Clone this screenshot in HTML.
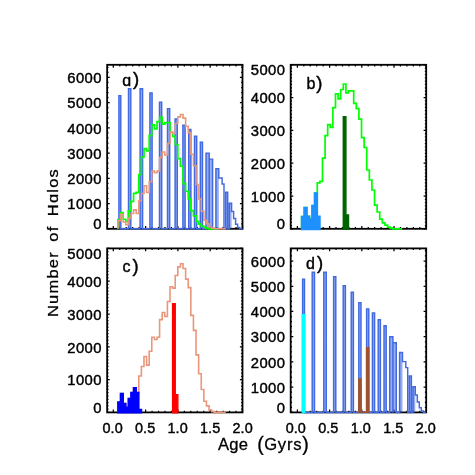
<!DOCTYPE html>
<html><head><meta charset="utf-8"><title>Halo age histograms</title>
<style>
html,body{margin:0;padding:0;background:#fff;}
body{width:475px;height:475px;overflow:hidden;}
svg{display:block;font-family:"Liberation Sans",sans-serif;}
.t{font-size:14.8px;letter-spacing:0.4px;fill:#000;stroke:#000;stroke-width:0.42px;}
.p{font-size:16px;letter-spacing:1px;fill:#000;stroke:#000;stroke-width:0.4px;}
.a{font-size:15.4px;letter-spacing:1.4px;word-spacing:4px;fill:#000;stroke:#000;stroke-width:0.3px;}
.h{fill:none;stroke-width:1.42;stroke-linejoin:miter;stroke-linecap:butt;}
</style></head><body>
<svg width="475" height="475" viewBox="0 0 475 475">
<rect width="475" height="475" fill="#fff"/>
<g id="panel-a">
<rect x="107.15" y="64.8" width="135.35" height="164" fill="none" stroke="#000" stroke-width="1.8"/>
<path d="M107.15,228.8h2.6M242.5,228.8h-2.6M107.15,223.75h1.35M242.5,223.75h-1.35M107.15,218.71h1.35M242.5,218.71h-1.35M107.15,213.66h1.35M242.5,213.66h-1.35M107.15,208.62h1.35M242.5,208.62h-1.35M107.15,203.57h2.6M242.5,203.57h-2.6M107.15,198.52h1.35M242.5,198.52h-1.35M107.15,193.48h1.35M242.5,193.48h-1.35M107.15,188.43h1.35M242.5,188.43h-1.35M107.15,183.38h1.35M242.5,183.38h-1.35M107.15,178.34h2.6M242.5,178.34h-2.6M107.15,173.29h1.35M242.5,173.29h-1.35M107.15,168.25h1.35M242.5,168.25h-1.35M107.15,163.2h1.35M242.5,163.2h-1.35M107.15,158.15h1.35M242.5,158.15h-1.35M107.15,153.11h2.6M242.5,153.11h-2.6M107.15,148.06h1.35M242.5,148.06h-1.35M107.15,143.02h1.35M242.5,143.02h-1.35M107.15,137.97h1.35M242.5,137.97h-1.35M107.15,132.92h1.35M242.5,132.92h-1.35M107.15,127.88h2.6M242.5,127.88h-2.6M107.15,122.83h1.35M242.5,122.83h-1.35M107.15,117.78h1.35M242.5,117.78h-1.35M107.15,112.74h1.35M242.5,112.74h-1.35M107.15,107.69h1.35M242.5,107.69h-1.35M107.15,102.65h2.6M242.5,102.65h-2.6M107.15,97.6h1.35M242.5,97.6h-1.35M107.15,92.55h1.35M242.5,92.55h-1.35M107.15,87.51h1.35M242.5,87.51h-1.35M107.15,82.46h1.35M242.5,82.46h-1.35M107.15,77.42h2.6M242.5,77.42h-2.6M107.15,72.37h1.35M242.5,72.37h-1.35M107.15,67.32h1.35M242.5,67.32h-1.35M113.3,228.8v-2.9M113.3,64.8v2.9M119.76,228.8v-1.7M119.76,64.8v1.7M126.22,228.8v-1.7M126.22,64.8v1.7M132.68,228.8v-1.7M132.68,64.8v1.7M139.14,228.8v-1.7M139.14,64.8v1.7M145.6,228.8v-2.9M145.6,64.8v2.9M152.06,228.8v-1.7M152.06,64.8v1.7M158.52,228.8v-1.7M158.52,64.8v1.7M164.98,228.8v-1.7M164.98,64.8v1.7M171.44,228.8v-1.7M171.44,64.8v1.7M177.9,228.8v-2.9M177.9,64.8v2.9M184.36,228.8v-1.7M184.36,64.8v1.7M190.82,228.8v-1.7M190.82,64.8v1.7M197.28,228.8v-1.7M197.28,64.8v1.7M203.74,228.8v-1.7M203.74,64.8v1.7M210.2,228.8v-2.9M210.2,64.8v2.9M216.66,228.8v-1.7M216.66,64.8v1.7M223.12,228.8v-1.7M223.12,64.8v1.7M229.58,228.8v-1.7M229.58,64.8v1.7M236.04,228.8v-1.7M236.04,64.8v1.7M242.5,228.8v-2.9M242.5,64.8v2.9" stroke="#000" stroke-width="1.25" fill="none"/>
<path d="M118.9,228.8V95.7H120.8V228.8ZM128.5,228.8V88.7H130.8V228.8ZM140.1,228.8V88.7H142.6V228.8ZM149.9,228.8V93H152.1V228.8ZM159.5,228.8V102.2H161.7V228.8ZM167.5,228.8V108.6H169.7V228.8ZM175.1,228.8V119H177.3V228.8ZM182.9,228.8V125.3H185.1V228.8ZM188.7,228.8V129.4H190.9V228.8ZM194.5,228.8V136.2H196.7V228.8ZM200.3,228.8V142.2H202.5V228.8ZM206,228.8V153.1H209.2V228.8ZM209.2,228.8V159.1H212.6V228.8ZM215.9,228.8V168.8H218.8V228.8ZM225.7,228.8V192.3H227.7V228.8ZM229.3,228.8V203.2H231.6V228.8Z" fill="#4169e1" fill-opacity="0.55" stroke="none"/>
<path class="h" stroke="#4169e1" style="stroke-width:1.45" d="M118.9,228.8V95.7H120.8V228.8H128.5V88.7H130.8V228.8H140.1V88.7H142.6V228.8H149.9V93H152.1V228.8H159.5V102.2H161.7V228.8H167.5V108.6H169.7V228.8H175.1V119H177.3V228.8H182.9V125.3H185.1V228.8H188.7V129.4H190.9V228.8H194.5V136.2H196.7V228.8H200.3V142.2H202.5V228.8H206V153.1H209.2V159.1H212.6V228.8H215.9V168.8H218.8V178H222.1V184H224V228.8H225.7V192.3H227.7V228.8H229.3V203.2H231.6V211.4H233.6V218.4H235.6V224.2H237.6V227.4H239.7V228.8H242.3M209.2,228.8V158.5"/>
<path class="h" style="stroke-width:1.7" stroke="#00ff00" d="M117.95,228.8V219.49H120.55V212.49H123.16V219.26H125.76V221.42H128.36V210.95H130.96V201.42H133.57V193.42H136.17V192.34H138.77V174.49H141.38V157.11H143.98V148.72H146.58V150.8H149.19V135.65H151.79V124.95H154.39V128.88H157V121.65H159.6V117.42H162.2V124.18H164.8V122.65H167.41V122.65H170.01V132.26H172.61V136.34H175.22V144.49H177.82V158.65H180.42V166.26H183.02V183.57H185.63V191.26H188.23V198.95H190.83V210.65H193.44V215.88H196.04V221.42H198.64V224.18H201.25V226.03H203.85V227.57H206.45V228.34H209.06V228.8H218.3"/>
<path class="h" style="stroke-width:1.58" stroke="#e9967a" d="M117.95,228.8V220.8H120.55V214.34H123.16V221.95H125.76V224.8H128.36V218.18H130.96V213.49H133.57V209.88H136.17V213.49H138.77V200.8H141.38V193.49H143.98V185.8H146.58V192.42H149.19V181.72H151.79V171.03H154.39V172.72H157V171.03H159.6V157.42H162.2V151.95H164.8V155.03H167.41V143.49H170.01V132.11H172.61V133.18H175.22V123.49H177.82V116.88H180.42V114.42H183.02V118.11H185.63V126.26H188.23V132.8H190.83V154.18H193.44V165.72H196.04V184.57H198.64V199.03H201.25V211.18H203.85V220.18H206.45V223.8H209.06V226.95H211.66V228.18H214.26V228.8H225.8"/>
</g>
<g id="panel-b">
<rect x="290.7" y="64.8" width="135.5" height="164" fill="none" stroke="#000" stroke-width="1.8"/>
<path d="M290.7,228.8h2.6M426.2,228.8h-2.6M290.7,225.52h1.35M426.2,225.52h-1.35M290.7,222.24h1.35M426.2,222.24h-1.35M290.7,218.96h1.35M426.2,218.96h-1.35M290.7,215.68h1.35M426.2,215.68h-1.35M290.7,212.4h1.35M426.2,212.4h-1.35M290.7,209.12h1.35M426.2,209.12h-1.35M290.7,205.84h1.35M426.2,205.84h-1.35M290.7,202.56h1.35M426.2,202.56h-1.35M290.7,199.28h1.35M426.2,199.28h-1.35M290.7,196h2.6M426.2,196h-2.6M290.7,192.72h1.35M426.2,192.72h-1.35M290.7,189.44h1.35M426.2,189.44h-1.35M290.7,186.16h1.35M426.2,186.16h-1.35M290.7,182.88h1.35M426.2,182.88h-1.35M290.7,179.6h1.35M426.2,179.6h-1.35M290.7,176.32h1.35M426.2,176.32h-1.35M290.7,173.04h1.35M426.2,173.04h-1.35M290.7,169.76h1.35M426.2,169.76h-1.35M290.7,166.48h1.35M426.2,166.48h-1.35M290.7,163.2h2.6M426.2,163.2h-2.6M290.7,159.92h1.35M426.2,159.92h-1.35M290.7,156.64h1.35M426.2,156.64h-1.35M290.7,153.36h1.35M426.2,153.36h-1.35M290.7,150.08h1.35M426.2,150.08h-1.35M290.7,146.8h1.35M426.2,146.8h-1.35M290.7,143.52h1.35M426.2,143.52h-1.35M290.7,140.24h1.35M426.2,140.24h-1.35M290.7,136.96h1.35M426.2,136.96h-1.35M290.7,133.68h1.35M426.2,133.68h-1.35M290.7,130.4h2.6M426.2,130.4h-2.6M290.7,127.12h1.35M426.2,127.12h-1.35M290.7,123.84h1.35M426.2,123.84h-1.35M290.7,120.56h1.35M426.2,120.56h-1.35M290.7,117.28h1.35M426.2,117.28h-1.35M290.7,114h1.35M426.2,114h-1.35M290.7,110.72h1.35M426.2,110.72h-1.35M290.7,107.44h1.35M426.2,107.44h-1.35M290.7,104.16h1.35M426.2,104.16h-1.35M290.7,100.88h1.35M426.2,100.88h-1.35M290.7,97.6h2.6M426.2,97.6h-2.6M290.7,94.32h1.35M426.2,94.32h-1.35M290.7,91.04h1.35M426.2,91.04h-1.35M290.7,87.76h1.35M426.2,87.76h-1.35M290.7,84.48h1.35M426.2,84.48h-1.35M290.7,81.2h1.35M426.2,81.2h-1.35M290.7,77.92h1.35M426.2,77.92h-1.35M290.7,74.64h1.35M426.2,74.64h-1.35M290.7,71.36h1.35M426.2,71.36h-1.35M290.7,68.08h1.35M426.2,68.08h-1.35M290.7,64.8h2.6M426.2,64.8h-2.6M290.96,228.8v-1.7M290.96,64.8v1.7M297.4,228.8v-2.9M297.4,64.8v2.9M303.84,228.8v-1.7M303.84,64.8v1.7M310.28,228.8v-1.7M310.28,64.8v1.7M316.72,228.8v-1.7M316.72,64.8v1.7M323.16,228.8v-1.7M323.16,64.8v1.7M329.6,228.8v-2.9M329.6,64.8v2.9M336.04,228.8v-1.7M336.04,64.8v1.7M342.48,228.8v-1.7M342.48,64.8v1.7M348.92,228.8v-1.7M348.92,64.8v1.7M355.36,228.8v-1.7M355.36,64.8v1.7M361.8,228.8v-2.9M361.8,64.8v2.9M368.24,228.8v-1.7M368.24,64.8v1.7M374.68,228.8v-1.7M374.68,64.8v1.7M381.12,228.8v-1.7M381.12,64.8v1.7M387.56,228.8v-1.7M387.56,64.8v1.7M394,228.8v-2.9M394,64.8v2.9M400.44,228.8v-1.7M400.44,64.8v1.7M406.88,228.8v-1.7M406.88,64.8v1.7M413.32,228.8v-1.7M413.32,64.8v1.7M419.76,228.8v-1.7M419.76,64.8v1.7M426.2,228.8v-2.9M426.2,64.8v2.9" stroke="#000" stroke-width="1.25" fill="none"/>
<path class="h" style="stroke-width:1.7" stroke="#00ff00" d="M301.65,228.8V216.7H304.25V207.6H306.86V216.4H309.46V219.2H312.06V205.6H314.66V193.2H317.27V182.8H319.87V181.4H322.47V158.2H325.08V135.6H327.68V124.7H330.28V127.4H332.89V107.7H335.49V93.8H338.09V98.9H340.69V89.5H343.3V84H345.9V92.8H348.5V90.8H351.11V90.8H353.71V103.3H356.31V108.6H358.92V119.2H361.52V137.6H364.12V147.5H366.72V170H369.33V180H371.93V190H374.53V205.2H377.14V212H379.74V219.2H382.34V222.8H384.95V225.2H387.55V227.2H390.15V228.2H392.75V228.8H402"/>
<path d="M301.65,229.4V216.7H304.25V207.6H306.86V216.4H309.46V219.2H312.06V205.6H314.66V193.2H317.27V216.4H319.87V229.4Z" fill="#1e90ff" stroke="#1e90ff" stroke-width="1.72"/>
<path d="M343.3,229.4V116.8H345.9V215H348.5V229.4Z" fill="#006400" stroke="#006400" stroke-width="1.42"/>
</g>
<g id="panel-c">
<rect x="107.15" y="248.4" width="135.35" height="164" fill="none" stroke="#000" stroke-width="1.8"/>
<path d="M107.15,412.4h2.6M242.5,412.4h-2.6M107.15,409.12h1.35M242.5,409.12h-1.35M107.15,405.84h1.35M242.5,405.84h-1.35M107.15,402.56h1.35M242.5,402.56h-1.35M107.15,399.28h1.35M242.5,399.28h-1.35M107.15,396h1.35M242.5,396h-1.35M107.15,392.72h1.35M242.5,392.72h-1.35M107.15,389.44h1.35M242.5,389.44h-1.35M107.15,386.16h1.35M242.5,386.16h-1.35M107.15,382.88h1.35M242.5,382.88h-1.35M107.15,379.6h2.6M242.5,379.6h-2.6M107.15,376.32h1.35M242.5,376.32h-1.35M107.15,373.04h1.35M242.5,373.04h-1.35M107.15,369.76h1.35M242.5,369.76h-1.35M107.15,366.48h1.35M242.5,366.48h-1.35M107.15,363.2h1.35M242.5,363.2h-1.35M107.15,359.92h1.35M242.5,359.92h-1.35M107.15,356.64h1.35M242.5,356.64h-1.35M107.15,353.36h1.35M242.5,353.36h-1.35M107.15,350.08h1.35M242.5,350.08h-1.35M107.15,346.8h2.6M242.5,346.8h-2.6M107.15,343.52h1.35M242.5,343.52h-1.35M107.15,340.24h1.35M242.5,340.24h-1.35M107.15,336.96h1.35M242.5,336.96h-1.35M107.15,333.68h1.35M242.5,333.68h-1.35M107.15,330.4h1.35M242.5,330.4h-1.35M107.15,327.12h1.35M242.5,327.12h-1.35M107.15,323.84h1.35M242.5,323.84h-1.35M107.15,320.56h1.35M242.5,320.56h-1.35M107.15,317.28h1.35M242.5,317.28h-1.35M107.15,314h2.6M242.5,314h-2.6M107.15,310.72h1.35M242.5,310.72h-1.35M107.15,307.44h1.35M242.5,307.44h-1.35M107.15,304.16h1.35M242.5,304.16h-1.35M107.15,300.88h1.35M242.5,300.88h-1.35M107.15,297.6h1.35M242.5,297.6h-1.35M107.15,294.32h1.35M242.5,294.32h-1.35M107.15,291.04h1.35M242.5,291.04h-1.35M107.15,287.76h1.35M242.5,287.76h-1.35M107.15,284.48h1.35M242.5,284.48h-1.35M107.15,281.2h2.6M242.5,281.2h-2.6M107.15,277.92h1.35M242.5,277.92h-1.35M107.15,274.64h1.35M242.5,274.64h-1.35M107.15,271.36h1.35M242.5,271.36h-1.35M107.15,268.08h1.35M242.5,268.08h-1.35M107.15,264.8h1.35M242.5,264.8h-1.35M107.15,261.52h1.35M242.5,261.52h-1.35M107.15,258.24h1.35M242.5,258.24h-1.35M107.15,254.96h1.35M242.5,254.96h-1.35M107.15,251.68h1.35M242.5,251.68h-1.35M107.15,248.4h2.6M242.5,248.4h-2.6M113.3,412.4v-2.9M113.3,248.4v2.9M119.76,412.4v-1.7M119.76,248.4v1.7M126.22,412.4v-1.7M126.22,248.4v1.7M132.68,412.4v-1.7M132.68,248.4v1.7M139.14,412.4v-1.7M139.14,248.4v1.7M145.6,412.4v-2.9M145.6,248.4v2.9M152.06,412.4v-1.7M152.06,248.4v1.7M158.52,412.4v-1.7M158.52,248.4v1.7M164.98,412.4v-1.7M164.98,248.4v1.7M171.44,412.4v-1.7M171.44,248.4v1.7M177.9,412.4v-2.9M177.9,248.4v2.9M184.36,412.4v-1.7M184.36,248.4v1.7M190.82,412.4v-1.7M190.82,248.4v1.7M197.28,412.4v-1.7M197.28,248.4v1.7M203.74,412.4v-1.7M203.74,248.4v1.7M210.2,412.4v-2.9M210.2,248.4v2.9M216.66,412.4v-1.7M216.66,248.4v1.7M223.12,412.4v-1.7M223.12,248.4v1.7M229.58,412.4v-1.7M229.58,248.4v1.7M236.04,412.4v-1.7M236.04,248.4v1.7M242.5,412.4v-2.9M242.5,248.4v2.9" stroke="#000" stroke-width="1.25" fill="none"/>
<path class="h" style="stroke-width:1.58" stroke="#e9967a" d="M117.95,412.4V402H120.55V393.6H123.16V403.5H125.76V407.2H128.36V398.6H130.96V392.5H133.57V387.8H136.17V392.5H138.77V376H141.38V366.5H143.98V356.5H146.58V365.1H149.19V351.2H151.79V337.3H154.39V339.5H157V337.3H159.6V319.6H162.2V312.5H164.8V316.5H167.41V301.5H170.01V286.7H172.61V288.1H175.22V275.5H177.82V266.9H180.42V263.7H183.02V268.5H185.63V279.1H188.23V287.6H190.83V315.4H193.44V330.4H196.04V354.9H198.64V373.7H201.25V389.5H203.85V401.2H206.45V405.9H209.06V410H211.66V411.6H214.26V412.4H225.8"/>
<path d="M117.95,412.8V402H120.55V393.6H123.16V403.5H125.76V407.2H128.36V398.6H130.96V392.5H133.57V387.8H136.17V392.5H138.77V409.5H141.38V412.8Z" fill="#0000ff" stroke="#0000ff" stroke-width="1.62"/>
<path d="M172.61,412.8V303.6H175.22V394.7H177.82V412.8Z" fill="#ff0000" stroke="#ff0000" stroke-width="1.42"/>
</g>
<g id="panel-d">
<rect x="290.7" y="248.4" width="135.5" height="164" fill="none" stroke="#000" stroke-width="1.8"/>
<path d="M290.7,412.4h2.6M426.2,412.4h-2.6M290.7,407.35h1.35M426.2,407.35h-1.35M290.7,402.31h1.35M426.2,402.31h-1.35M290.7,397.26h1.35M426.2,397.26h-1.35M290.7,392.22h1.35M426.2,392.22h-1.35M290.7,387.17h2.6M426.2,387.17h-2.6M290.7,382.12h1.35M426.2,382.12h-1.35M290.7,377.08h1.35M426.2,377.08h-1.35M290.7,372.03h1.35M426.2,372.03h-1.35M290.7,366.98h1.35M426.2,366.98h-1.35M290.7,361.94h2.6M426.2,361.94h-2.6M290.7,356.89h1.35M426.2,356.89h-1.35M290.7,351.85h1.35M426.2,351.85h-1.35M290.7,346.8h1.35M426.2,346.8h-1.35M290.7,341.75h1.35M426.2,341.75h-1.35M290.7,336.71h2.6M426.2,336.71h-2.6M290.7,331.66h1.35M426.2,331.66h-1.35M290.7,326.62h1.35M426.2,326.62h-1.35M290.7,321.57h1.35M426.2,321.57h-1.35M290.7,316.52h1.35M426.2,316.52h-1.35M290.7,311.48h2.6M426.2,311.48h-2.6M290.7,306.43h1.35M426.2,306.43h-1.35M290.7,301.38h1.35M426.2,301.38h-1.35M290.7,296.34h1.35M426.2,296.34h-1.35M290.7,291.29h1.35M426.2,291.29h-1.35M290.7,286.25h2.6M426.2,286.25h-2.6M290.7,281.2h1.35M426.2,281.2h-1.35M290.7,276.15h1.35M426.2,276.15h-1.35M290.7,271.11h1.35M426.2,271.11h-1.35M290.7,266.06h1.35M426.2,266.06h-1.35M290.7,261.02h2.6M426.2,261.02h-2.6M290.7,255.97h1.35M426.2,255.97h-1.35M290.7,250.92h1.35M426.2,250.92h-1.35M290.96,412.4v-1.7M290.96,248.4v1.7M297.4,412.4v-2.9M297.4,248.4v2.9M303.84,412.4v-1.7M303.84,248.4v1.7M310.28,412.4v-1.7M310.28,248.4v1.7M316.72,412.4v-1.7M316.72,248.4v1.7M323.16,412.4v-1.7M323.16,248.4v1.7M329.6,412.4v-2.9M329.6,248.4v2.9M336.04,412.4v-1.7M336.04,248.4v1.7M342.48,412.4v-1.7M342.48,248.4v1.7M348.92,412.4v-1.7M348.92,248.4v1.7M355.36,412.4v-1.7M355.36,248.4v1.7M361.8,412.4v-2.9M361.8,248.4v2.9M368.24,412.4v-1.7M368.24,248.4v1.7M374.68,412.4v-1.7M374.68,248.4v1.7M381.12,412.4v-1.7M381.12,248.4v1.7M387.56,412.4v-1.7M387.56,248.4v1.7M394,412.4v-2.9M394,248.4v2.9M400.44,412.4v-1.7M400.44,248.4v1.7M406.88,412.4v-1.7M406.88,248.4v1.7M413.32,412.4v-1.7M413.32,248.4v1.7M419.76,412.4v-1.7M419.76,248.4v1.7M426.2,412.4v-2.9M426.2,248.4v2.9" stroke="#000" stroke-width="1.25" fill="none"/>
<path d="M302.6,412.4V279.3H304.5V412.4ZM312.2,412.4V272.3H314.5V412.4ZM323.8,412.4V272.3H326.3V412.4ZM333.6,412.4V276.6H335.8V412.4ZM343.2,412.4V285.8H345.4V412.4ZM351.2,412.4V292.2H353.4V412.4ZM358.8,412.4V302.6H361V412.4ZM366.6,412.4V308.9H368.8V412.4ZM372.4,412.4V313H374.6V412.4ZM378.2,412.4V319.8H380.4V412.4ZM384,412.4V325.8H386.2V412.4ZM389.7,412.4V336.7H392.9V412.4ZM392.9,412.4V342.7H396.3V412.4ZM399.6,412.4V352.4H402.5V412.4ZM409.4,412.4V375.9H411.4V412.4ZM413,412.4V386.8H415.3V412.4Z" fill="#4169e1" fill-opacity="0.55" stroke="none"/>
<path class="h" stroke="#4169e1" style="stroke-width:1.45" d="M302.6,412.4V279.3H304.5V412.4H312.2V272.3H314.5V412.4H323.8V272.3H326.3V412.4H333.6V276.6H335.8V412.4H343.2V285.8H345.4V412.4H351.2V292.2H353.4V412.4H358.8V302.6H361V412.4H366.6V308.9H368.8V412.4H372.4V313H374.6V412.4H378.2V319.8H380.4V412.4H384V325.8H386.2V412.4H389.7V336.7H392.9V342.7H396.3V412.4H399.6V352.4H402.5V361.6H405.8V367.6H407.7V412.4H409.4V375.9H411.4V412.4H413V386.8H415.3V395H417.3V402H419.3V407.8H421.3V411H423.4V412.4H426M392.9,412.4V342.1"/>
<rect x="301.6" y="314" width="3.8" height="99.2" fill="#00ffff"/>
<path d="M358.8,412.4V379H361V412.4H366.6V347.6H368.8V412.4Z" fill="#a0522d" stroke="#a0522d" stroke-width="1.42"/>
</g>
<defs><filter id="gf" x="0" y="0" width="475" height="475" filterUnits="userSpaceOnUse"><feOffset dx="0" dy="0"/></filter></defs>
<g filter="url(#gf)">
<text x="101.8" y="229.1" text-anchor="end" class="t">0</text>
<text x="101.8" y="209.27" text-anchor="end" class="t">1000</text>
<text x="101.8" y="184.04" text-anchor="end" class="t">2000</text>
<text x="101.8" y="158.81" text-anchor="end" class="t">3000</text>
<text x="101.8" y="133.58" text-anchor="end" class="t">4000</text>
<text x="101.8" y="108.35" text-anchor="end" class="t">5000</text>
<text x="101.8" y="83.12" text-anchor="end" class="t">6000</text>
<text x="285.3" y="229.1" text-anchor="end" class="t">0</text>
<text x="285.3" y="201.7" text-anchor="end" class="t">1000</text>
<text x="285.3" y="168.9" text-anchor="end" class="t">2000</text>
<text x="285.3" y="136.1" text-anchor="end" class="t">3000</text>
<text x="285.3" y="103.3" text-anchor="end" class="t">4000</text>
<text x="285.3" y="75.1" text-anchor="end" class="t">5000</text>
<text x="101.8" y="412.7" text-anchor="end" class="t">0</text>
<text x="101.8" y="385.3" text-anchor="end" class="t">1000</text>
<text x="101.8" y="352.5" text-anchor="end" class="t">2000</text>
<text x="101.8" y="319.7" text-anchor="end" class="t">3000</text>
<text x="101.8" y="286.9" text-anchor="end" class="t">4000</text>
<text x="101.8" y="258.7" text-anchor="end" class="t">5000</text>
<text x="285.3" y="412.7" text-anchor="end" class="t">0</text>
<text x="285.3" y="392.87" text-anchor="end" class="t">1000</text>
<text x="285.3" y="367.64" text-anchor="end" class="t">2000</text>
<text x="285.3" y="342.41" text-anchor="end" class="t">3000</text>
<text x="285.3" y="317.18" text-anchor="end" class="t">4000</text>
<text x="285.3" y="291.95" text-anchor="end" class="t">5000</text>
<text x="285.3" y="266.72" text-anchor="end" class="t">6000</text>
<text x="112.6" y="433.2" text-anchor="middle" class="t" style="letter-spacing:0.1px;font-size:14.4px">0.0</text>
<text x="145.1" y="433.2" text-anchor="middle" class="t" style="letter-spacing:0.1px;font-size:14.4px">0.5</text>
<text x="177.6" y="433.2" text-anchor="middle" class="t" style="letter-spacing:0.1px;font-size:14.4px">1.0</text>
<text x="210.1" y="433.2" text-anchor="middle" class="t" style="letter-spacing:0.1px;font-size:14.4px">1.5</text>
<text x="242.6" y="433.2" text-anchor="middle" class="t" style="letter-spacing:0.1px;font-size:14.4px">2.0</text>
<text x="295.8" y="433.2" text-anchor="middle" class="t" style="letter-spacing:0.1px;font-size:14.4px">0.0</text>
<text x="328.3" y="433.2" text-anchor="middle" class="t" style="letter-spacing:0.1px;font-size:14.4px">0.5</text>
<text x="360.8" y="433.2" text-anchor="middle" class="t" style="letter-spacing:0.1px;font-size:14.4px">1.0</text>
<text x="393.3" y="433.2" text-anchor="middle" class="t" style="letter-spacing:0.1px;font-size:14.4px">1.5</text>
<text x="425.8" y="433.2" text-anchor="middle" class="t" style="letter-spacing:0.1px;font-size:14.4px">2.0</text>
<text x="122.3" y="85.7" class="p">ɑ</text>
<text x="133" y="85.1" class="p" style="font-size:18.5px">)</text>
<text x="306.4" y="88.7" class="p">b</text>
<text x="316.3" y="88.5" class="p" style="font-size:18.5px">)</text>
<text x="122.5" y="271.5" class="p">c</text>
<text x="132.6" y="271.7" class="p" style="font-size:18.5px">)</text>
<text x="306.1" y="269.1" class="p">d</text>
<text x="317" y="268.7" class="p" style="font-size:18.5px">)</text>
<text x="217.9" y="450.3" class="a" style="font-size:16.6px;letter-spacing:0.3px">Age</text>
<text x="264.2" y="450.3" class="a" style="font-size:16.6px;letter-spacing:0.75px">Gyrs</text>
<text x="257.2" y="450.6" class="a" style="font-size:19.5px">(</text>
<text x="302.2" y="450.6" class="a" style="font-size:19.5px">)</text>
<text transform="translate(57.6,242.5) rotate(-90) scale(1.11,1)" text-anchor="middle" class="a" style="font-size:14.8px;letter-spacing:1.15px;word-spacing:3.1px">Number of Hɑlos</text>
</g>
</svg>
</body></html>
